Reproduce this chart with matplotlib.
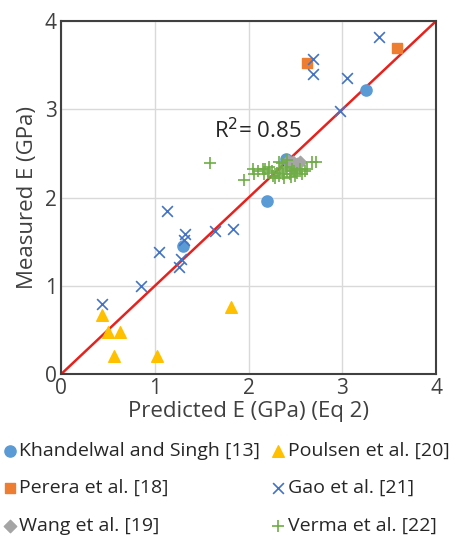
import matplotlib.pyplot as plt

plt.rcParams['font.family'] = ['Open Sans', 'DejaVu Sans']

# data (GPa)
khandelwal_x = [3.25, 2.20, 1.30, 2.40]
khandelwal_y = [3.22, 1.96, 1.45, 2.44]

perera_x = [2.62, 3.58]
perera_y = [3.52, 3.70]

wang_x = [2.42, 2.47, 2.52, 2.55, 2.50]
wang_y = [2.42, 2.40, 2.38, 2.40, 2.36]

poulsen_x = [0.44, 0.50, 0.63, 0.57, 1.02, 1.81]
poulsen_y = [0.67, 0.48, 0.48, 0.21, 0.21, 0.76]

gao_x = [2.69, 2.69, 3.05, 3.39, 2.98, 0.44, 0.85, 1.04, 1.13, 1.26, 1.28,
         1.32, 1.31, 1.64, 1.83]
gao_y = [3.57, 3.40, 3.35, 3.82, 2.98, 0.79, 1.00, 1.38, 1.85, 1.21, 1.31,
         1.59, 1.52, 1.62, 1.64]

verma_x = [1.59, 1.95, 2.05, 2.06, 2.10, 2.15, 2.17, 2.18, 2.21, 2.25, 2.26,
           2.30, 2.34, 2.36, 2.37, 2.41, 2.44, 2.48, 2.52, 2.55, 2.57, 2.60,
           2.32, 2.41, 2.68, 2.72, 2.28, 2.33, 2.38, 2.45, 2.50, 2.62, 2.22,
           2.40, 2.46]
verma_y = [2.39, 2.20, 2.33, 2.27, 2.30, 2.32, 2.27, 2.32, 2.28, 2.30, 2.24,
           2.28, 2.32, 2.39, 2.27, 2.30, 2.27, 2.30, 2.28, 2.32, 2.27, 2.30,
           2.40, 2.43, 2.40, 2.40, 2.22, 2.25, 2.22, 2.23, 2.25, 2.33, 2.35,
           2.35, 2.33]

fig = plt.figure(figsize=(4.59, 5.4), dpi=100)
ax = fig.add_axes([0.133, 0.307, 0.817, 0.654])

ax.plot([0, 4], [0, 4], color='#E8211C', lw=1.8, zorder=2)

ax.scatter(khandelwal_x, khandelwal_y, marker='o', s=65, color='#5B9BD5',
           label='Khandelwal and Singh [13]', zorder=3)
ax.scatter(perera_x, perera_y, marker='s', s=60, color='#ED7D31',
           label='Perera et al. [18]', zorder=3)
ax.scatter(wang_x, wang_y, marker='D', s=40, color='#A5A5A5',
           label='Wang et al. [19]', zorder=3)
ax.scatter(poulsen_x, poulsen_y, marker='^', s=70, color='#FFC000',
           label='Poulsen et al. [20]', zorder=3)
ax.scatter(gao_x, gao_y, marker='x', s=60, color='#4472C4', lw=1.2,
           label='Gao et al. [21]', zorder=3)
ax.scatter(verma_x, verma_y, marker='+', s=70, color='#70AD47', lw=1.2,
           label='Verma et al. [22]', zorder=3)

ax.text(1.63, 2.67, 'R$^2$= 0.85', fontsize=16, color='#262626')

ax.set_xlim(0, 4)
ax.set_ylim(0, 4)
ax.set_xticks([0, 1, 2, 3, 4])
ax.set_yticks([0, 1, 2, 3, 4])
ax.tick_params(labelsize=15, length=0, pad=3, colors='#404040')
ax.grid(color='#D9D9D9', lw=1)
ax.set_axisbelow(True)
for s in ax.spines.values():
    s.set_color('#404040')
    s.set_linewidth(1.5)

ax.set_xlabel('Predicted E (GPa) (Eq 2)', fontsize=16, color='#404040', labelpad=1)
ax.set_ylabel('Measured E (GPa)', fontsize=16, color='#404040', labelpad=5)

fig.legend(loc='upper left', bbox_to_anchor=(0.0, 0.182), ncol=2,
           frameon=False, fontsize=14, handletextpad=0.0, handlelength=1.0,
           columnspacing=0.4, labelspacing=1.0, borderaxespad=0,
           borderpad=0, scatterpoints=1, labelcolor='#262626')

plt.savefig('out.png', dpi=100)
